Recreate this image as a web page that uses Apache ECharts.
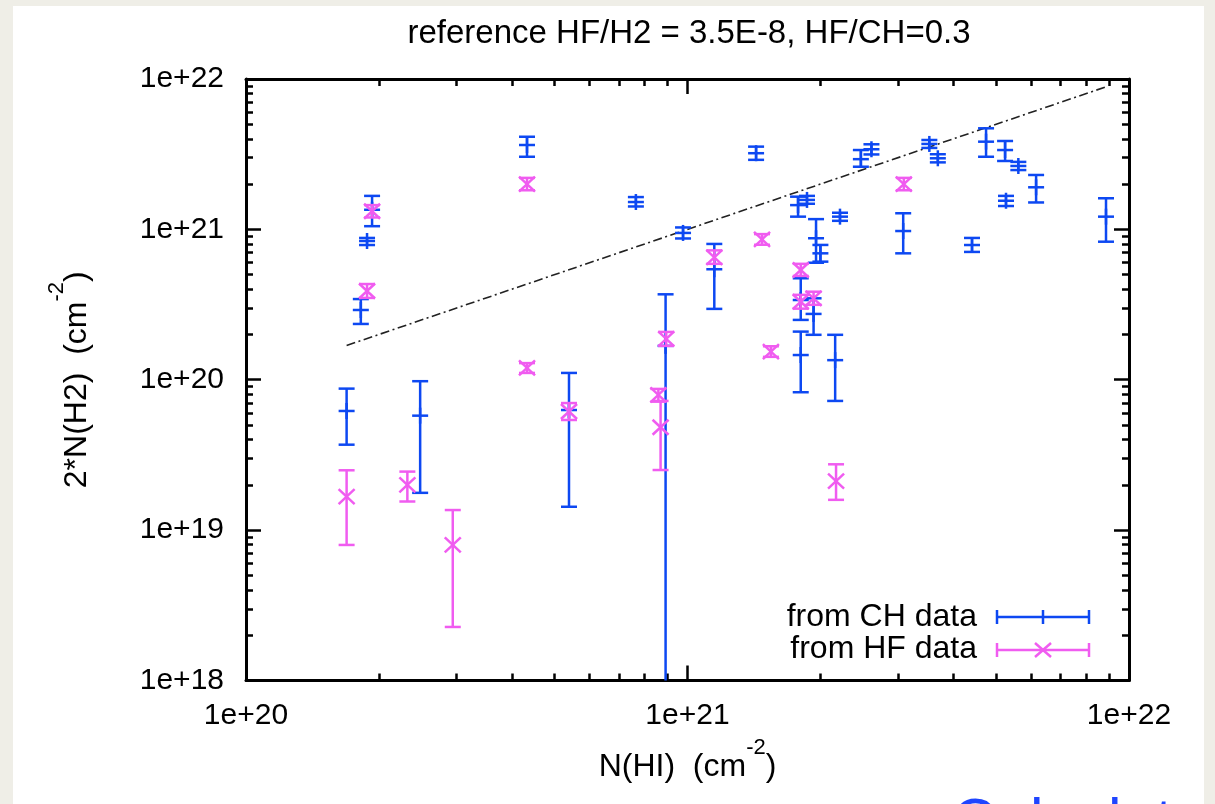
<!DOCTYPE html>
<html>
<head>
<meta charset="utf-8">
<script src="https://cdn.jsdelivr.net/npm/echarts@6/dist/echarts.min.js"></script>
<style>
html,body{margin:0;padding:0;background:#efeee7;}
#panel{position:absolute;left:13px;top:6px;width:1191px;height:798px;background:#ffffff;}
#c{position:absolute;left:0;top:0;width:1215px;height:804px;}
</style>
</head>
<body>
<div id="panel"></div>
<div id="c"></div>
<script>
// ---------- tick labels ----------
const xTickValues = [1e20, 1e21, 1e22];
const xTickLabels = ['1e+20', '1e+21', '1e+22'];
const yTickValues = [1e18, 1e19, 1e20, 1e21, 1e22];
const yTickLabels = ['1e+18', '1e+19', '1e+20', '1e+21', '1e+22'];
const xMinorTicks = [2e20, 3e20, 4e20, 5e20, 6e20, 7e20, 8e20, 9e20,
                     2e21, 3e21, 4e21, 5e21, 6e21, 7e21, 8e21, 9e21];
const yMinorTicks = [2e18, 3e18, 4e18, 5e18, 6e18, 7e18, 8e18, 9e18,
                     2e19, 3e19, 4e19, 5e19, 6e19, 7e19, 8e19, 9e19,
                     2e20, 3e20, 4e20, 5e20, 6e20, 7e20, 8e20, 9e20,
                     2e21, 3e21, 4e21, 5e21, 6e21, 7e21, 8e21, 9e21];

// ---------- CH data: N(HI), 2N(H2), lower, upper ----------
const chX = [1.69e20, 1.82e20, 1.88e20, 1.93e20, 2.48e20, 4.33e20, 5.39e20, 7.64e20,
             8.92e20, 9.77e20, 1.15e21, 1.43e21, 1.78e21, 1.865e21, 1.805e21, 1.805e21,
             1.93e21, 1.955e21, 2.00e21, 2.16e21, 2.215e21, 2.47e21, 2.61e21, 3.08e21,
             3.53e21, 3.69e21, 4.41e21, 4.745e21, 5.24e21, 5.265e21, 5.615e21, 6.16e21, 8.87e21];
const chY = [6.2e19, 2.91e20, 8.37e20, 1.35e21, 5.77e19, 3.64e21, 6.29e19, 1.52e21,
             1.68e20, 9.47e20, 5.43e20, 3.21e21, 1.45e21, 1.57e21, 3.39e20, 1.46e20,
             2.74e20, 8.73e20, 6.93e20, 1.35e20, 1.215e21, 2.93e21, 3.41e21, 9.75e20,
             3.70e21, 2.97e21, 7.87e20, 3.83e21, 3.37e21, 1.55e21, 2.64e21, 1.905e21, 1.215e21];
const chLow = [3.70e19, 2.35e20, 7.87e20, 1.05e21, 1.77e19, 3.04e21, 1.43e19, 1.42e21,
               1e16, 8.7e20, 2.96e20, 2.90e21, 1.215e21, 1.48e21, 2.50e20, 8.26e19,
               1.99e20, 6.0e20, 6.1e20, 7.23e19, 1.14e21, 2.61e21, 3.15e21, 6.93e20,
               3.48e21, 2.79e21, 7.08e20, 3.04e21, 2.85e21, 1.43e21, 2.48e21, 1.51e21, 8.28e20];
const chHigh = [8.73e19, 3.44e20, 8.77e20, 1.67e21, 9.78e19, 4.13e21, 1.11e20, 1.64e21,
                3.70e20, 1.03e21, 8.0e20, 3.55e21, 1.65e21, 1.67e21, 4.73e20, 2.09e20,
                3.48e20, 1.17e21, 7.88e20, 1.99e20, 1.29e21, 3.37e21, 3.68e21, 1.28e21,
                3.93e21, 3.16e21, 8.77e20, 4.70e21, 3.87e21, 1.67e21, 2.81e21, 2.30e21, 1.61e21];

// ---------- HF data ----------
const hfX = [1.69e20, 1.88e20, 1.93e20, 2.32e20, 2.94e20, 4.33e20, 4.33e20, 5.39e20,
             8.59e20, 8.69e20, 8.95e20, 1.15e21, 1.475e21, 1.545e21, 1.805e21, 1.805e21,
             1.93e21, 2.17e21, 3.09e21];
const hfY = [1.67e19, 3.89e20, 1.32e21, 2.0e19, 7.97e18, 2.0e21, 1.20e20, 6.15e19,
             7.93e19, 4.83e19, 1.87e20, 6.52e20, 8.59e20, 1.54e20, 5.37e20, 3.30e20,
             3.48e20, 2.12e19, 2.0e21];
const hfLow = [7.97e18, 3.50e20, 1.2e21, 1.55e19, 2.27e18, 1.82e21, 1.11e20, 5.4e19,
               7.15e19, 2.51e19, 1.68e20, 5.9e20, 7.9e20, 1.42e20, 4.9e20, 2.97e20,
               3.15e20, 1.59e19, 1.82e21];
const hfHigh = [2.50e19, 4.33e20, 1.45e21, 2.45e19, 1.36e19, 2.2e21, 1.29e20, 7.0e19,
                8.69e19, 7.23e19, 2.08e20, 7.25e20, 9.3e20, 1.67e20, 5.9e20, 3.67e20,
                3.85e20, 2.74e19, 2.2e21];

// ---------- reference relation line ----------
const refLineX = [1.69e20, 8.96e21];
const refLineY = [1.69e20, 8.96e21];

const BLUE = '#0d48f2';
const MAGENTA = '#f05cf0';
const FONT = '"Liberation Sans", Arial, sans-serif';

function fmt(vals, labels) {
  return function (v) {
    for (let i = 0; i < vals.length; i++) {
      if (Math.abs(Math.log10(v) - Math.log10(vals[i])) < 1e-6) return labels[i];
    }
    return '';
  };
}

function makeErrRender(color, marker) {
  return function (params, api) {
    const x = api.value(0), y = api.value(1), lo = api.value(2), hi = api.value(3);
    const p = api.coord([x, y]);
    const pLo = api.coord([x, lo]);
    const pHi = api.coord([x, hi]);
    const cs = params.coordSys;
    const top = cs.y, bot = cs.y + cs.height;
    const st = { stroke: color, lineWidth: 2.5, fill: null };
    const cap = 8;
    const kids = [];
    const y1 = Math.max(pHi[1], top), y2 = Math.min(pLo[1], bot);
    kids.push({ type: 'line', shape: { x1: p[0], y1: y1, x2: p[0], y2: y2 }, style: st });
    if (pHi[1] >= top) kids.push({ type: 'line', shape: { x1: p[0] - cap, y1: pHi[1], x2: p[0] + cap, y2: pHi[1] }, style: st });
    if (pLo[1] <= bot) kids.push({ type: 'line', shape: { x1: p[0] - cap, y1: pLo[1], x2: p[0] + cap, y2: pLo[1] }, style: st });
    if (marker === 'plus') {
      kids.push({ type: 'line', shape: { x1: p[0] - 8, y1: p[1], x2: p[0] + 8, y2: p[1] }, style: st });
      kids.push({ type: 'line', shape: { x1: p[0], y1: p[1] - 8, x2: p[0], y2: p[1] + 8 }, style: st });
    } else {
      kids.push({ type: 'line', shape: { x1: p[0] - 8, y1: p[1] - 7.5, x2: p[0] + 8, y2: p[1] + 7.5 }, style: st });
      kids.push({ type: 'line', shape: { x1: p[0] - 8, y1: p[1] + 7.5, x2: p[0] + 8, y2: p[1] - 7.5 }, style: st });
    }
    return { type: 'group', children: kids };
  };
}

const gridPos = { left: 246, right: 86, top: 79, bottom: 123.5, outerBoundsMode: 'none' };
const axLine = { show: true, lineStyle: { color: '#000', width: 3 } };
const labelStyle = { color: '#000', fontSize: 30, fontFamily: FONT };

function majorX(pos, withLabel, gridIndex) {
  return {
    type: 'log', logBase: 10, min: 1e20, max: 1e22, position: pos, gridIndex: gridIndex,
    axisLine: axLine,
    axisTick: { show: true, inside: true, length: 15, customValues: xTickValues, lineStyle: { color: '#000', width: 2.5 } },
    axisLabel: withLabel ? Object.assign({ show: true, margin: 20, customValues: xTickValues, formatter: fmt(xTickValues, xTickLabels) }, labelStyle) : { show: false },
    splitLine: { show: false }, minorTick: { show: false }, minorSplitLine: { show: false }
  };
}
function majorY(pos, withLabel, gridIndex) {
  return {
    type: 'log', logBase: 10, min: 1e18, max: 1e22, position: pos, gridIndex: gridIndex,
    axisLine: axLine,
    axisTick: { show: true, inside: true, length: 15, customValues: yTickValues, lineStyle: { color: '#000', width: 2.5 } },
    axisLabel: withLabel ? Object.assign({ show: true, margin: 22, customValues: yTickValues, formatter: fmt(yTickValues, yTickLabels) }, labelStyle) : { show: false },
    splitLine: { show: false }, minorTick: { show: false }, minorSplitLine: { show: false }
  };
}
function minorAx(kind, pos) {
  const isX = kind === 'x';
  return {
    type: 'log', logBase: 10, min: isX ? 1e20 : 1e18, max: 1e22, position: pos, gridIndex: 1,
    axisLine: { show: false },
    axisTick: { show: true, inside: true, length: 7, customValues: isX ? xMinorTicks : yMinorTicks, lineStyle: { color: '#000', width: 2.5 } },
    axisLabel: { show: false },
    splitLine: { show: false }
  };
}

const xA = [majorX('bottom', true, 0), majorX('top', false, 0), minorAx('x', 'bottom'), minorAx('x', 'top')];
const yA = [majorY('left', true, 0), majorY('right', false, 0), minorAx('y', 'left'), minorAx('y', 'right')];

const nameRich = {
  a: { fontSize: 32, lineHeight: 32, fontFamily: FONT, color: '#000', verticalAlign: 'bottom' },
  b: { fontSize: 22, lineHeight: 22, fontFamily: FONT, color: '#000', verticalAlign: 'bottom', padding: [0, 0, 25, 0] }
};
xA[0].name = '{a|N(HI)  (cm}{b|-2}{a|)}';
xA[0].nameLocation = 'middle';
xA[0].nameGap = 71;
xA[0].nameMoveOverlap = false;
xA[0].nameTextStyle = { rich: nameRich };
yA[0].name = '{a|2*N(H2)  (cm}{b|-2}{a|)}';
yA[0].nameLocation = 'middle';
yA[0].nameGap = 153;
yA[0].nameMoveOverlap = false;
yA[0].nameTextStyle = { rich: nameRich };

const chData = chX.map((x, i) => [x, chY[i], chLow[i], chHigh[i]]);
const hfData = hfX.map((x, i) => [x, hfY[i], hfLow[i], hfHigh[i]]);
const refData = refLineX.map((x, i) => [x, refLineY[i]]);

const option = {
  backgroundColor: 'transparent',
  animation: false,
  title: {
    text: 'reference HF/H2 = 3.5E-8, HF/CH=0.3',
    left: 689, top: 17, padding: 0, textAlign: 'center',
    textStyle: { fontSize: 33, fontWeight: 'normal', color: '#000', fontFamily: FONT }
  },
  grid: [Object.assign({}, gridPos), Object.assign({}, gridPos)],
  xAxis: xA,
  yAxis: yA,
  series: [
    {
      type: 'line', xAxisIndex: 0, yAxisIndex: 0, data: refData, showSymbol: false, symbol: 'none',
      lineStyle: { color: '#222', width: 1.6, type: [9, 3.5, 2, 3.5] }, z: 1
    },
    {
      type: 'custom', name: 'from CH data', xAxisIndex: 0, yAxisIndex: 0,
      data: chData, encode: { x: 0, y: 1 }, renderItem: makeErrRender(BLUE, 'plus'), z: 2
    },
    {
      type: 'custom', name: 'from HF data', xAxisIndex: 0, yAxisIndex: 0,
      data: hfData, encode: { x: 0, y: 1 }, renderItem: makeErrRender(MAGENTA, 'cross'), z: 3
    }
  ],
  graphic: [
    { type: 'text', x: 977, y: 617, style: { text: 'from CH data', align: 'right', verticalAlign: 'middle', font: '32px ' + FONT, fill: '#000' } },
    { type: 'line', shape: { x1: 997, y1: 617, x2: 1089, y2: 617 }, style: { stroke: BLUE, lineWidth: 2.5 } },
    { type: 'line', shape: { x1: 997, y1: 610, x2: 997, y2: 624 }, style: { stroke: BLUE, lineWidth: 2.5 } },
    { type: 'line', shape: { x1: 1089, y1: 610, x2: 1089, y2: 624 }, style: { stroke: BLUE, lineWidth: 2.5 } },
    { type: 'line', shape: { x1: 1043, y1: 610, x2: 1043, y2: 624 }, style: { stroke: BLUE, lineWidth: 2.5 } },
    { type: 'text', x: 977, y: 649, style: { text: 'from HF data', align: 'right', verticalAlign: 'middle', font: '32px ' + FONT, fill: '#000' } },
    { type: 'line', shape: { x1: 997, y1: 650, x2: 1089, y2: 650 }, style: { stroke: MAGENTA, lineWidth: 2.5 } },
    { type: 'line', shape: { x1: 997, y1: 643, x2: 997, y2: 657 }, style: { stroke: MAGENTA, lineWidth: 2.5 } },
    { type: 'line', shape: { x1: 1089, y1: 643, x2: 1089, y2: 657 }, style: { stroke: MAGENTA, lineWidth: 2.5 } },
    { type: 'line', shape: { x1: 1035, y1: 643, x2: 1051, y2: 657 }, style: { stroke: MAGENTA, lineWidth: 2.5 } },
    { type: 'line', shape: { x1: 1035, y1: 657, x2: 1051, y2: 643 }, style: { stroke: MAGENTA, lineWidth: 2.5 } },
    { type: 'text', x: 952, y: 794, style: { text: 'Calculat', align: 'left', verticalAlign: 'top', font: '61px ' + FONT, fill: '#1f45ff' } }
  ]
};

const chart = echarts.init(document.getElementById('c'), null, { renderer: 'canvas' });
chart.setOption(option);
</script>
</body>
</html>
